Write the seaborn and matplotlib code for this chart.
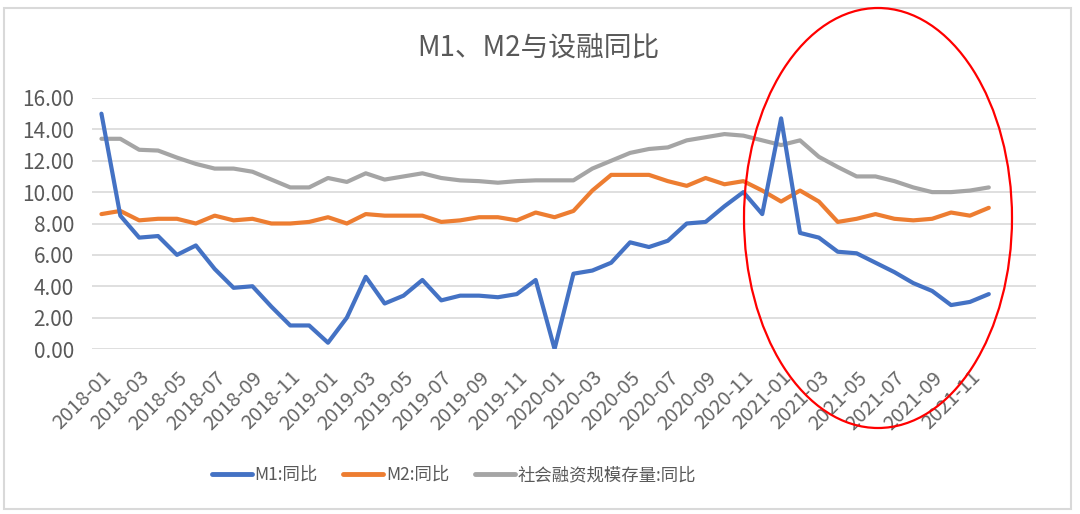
import numpy as np
import pandas as pd
import matplotlib
matplotlib.use("Agg")
import matplotlib.pyplot as plt
from matplotlib.patches import Ellipse, Rectangle
import seaborn as sns

months = [f"{y}-{m:02d}" for y in range(2018, 2022) for m in range(1, 13)]

m1 = [15.0, 8.5, 7.1, 7.2, 6.0, 6.6, 5.1, 3.9, 4.0, 2.7, 1.5, 1.5,
      0.4, 2.0, 4.6, 2.9, 3.4, 4.4, 3.1, 3.4, 3.4, 3.3, 3.5, 4.4,
      0.0, 4.8, 5.0, 5.5, 6.8, 6.5, 6.9, 8.0, 8.1, 9.1, 10.0, 8.6,
      14.7, 7.4, 7.1, 6.2, 6.1, 5.5, 4.9, 4.2, 3.7, 2.8, 3.0, 3.5]
m2 = [8.6, 8.8, 8.2, 8.3, 8.3, 8.0, 8.5, 8.2, 8.3, 8.0, 8.0, 8.1,
      8.4, 8.0, 8.6, 8.5, 8.5, 8.5, 8.1, 8.2, 8.4, 8.4, 8.2, 8.7,
      8.4, 8.8, 10.1, 11.1, 11.1, 11.1, 10.7, 10.4, 10.9, 10.5, 10.7, 10.1,
      9.4, 10.1, 9.4, 8.1, 8.3, 8.6, 8.3, 8.2, 8.3, 8.7, 8.5, 9.0]
tsf = [13.4, 13.4, 12.7, 12.65, 12.2, 11.8, 11.5, 11.5, 11.3, 10.8, 10.3, 10.3,
       10.9, 10.65, 11.2, 10.8, 11.0, 11.2, 10.9, 10.75, 10.7, 10.6, 10.7, 10.75,
       10.75, 10.75, 11.5, 12.0, 12.5, 12.75, 12.85, 13.3, 13.5, 13.7, 13.6, 13.3,
       13.0, 13.3, 12.25, 11.6, 11.0, 11.0, 10.7, 10.3, 10.0, 10.0, 10.1, 10.3]

series_names = ["M1:同比", "M2:同比", "社会融资规模存量:同比"]
colors = ["#4472C4", "#ED7D31", "#A5A5A5"]
title = "M1、M2与设融同比"
yticks = [0, 2, 4, 6, 8, 10, 12, 14, 16]

sns.set_theme(style="white")
plt.rcParams['font.family'] = ['Noto Sans CJK SC', 'DejaVu Sans']
text_color = "#595959"

df = pd.DataFrame({
    "idx": list(range(len(months))) * 3,
    "value": m1 + m2 + tsf,
    "series": [series_names[0]] * len(m1) + [series_names[1]] * len(m2) + [series_names[2]] * len(tsf),
})

fig = plt.figure(figsize=(10.8, 5.14), dpi=100)
ax = fig.add_axes([92 / 1080, 1 - 349 / 514, (1036 - 92) / 1080, (349 - 98) / 514])

sns.lineplot(data=df, x="idx", y="value", hue="series", hue_order=series_names,
             palette=colors, linewidth=3, ax=ax, legend=True)
for line, z in zip(ax.lines, [4, 3, 2]):
    line.set_zorder(z)
    line.set_solid_capstyle("round")
    line.set_solid_joinstyle("round")

ax.set_xlim(-0.5, 49.5)
ax.set_ylim(0, 16)
ax.set_yticks(yticks)
ax.set_yticklabels([f"{v:.2f}" for v in yticks], fontsize=15, color=text_color)
ax.yaxis.grid(True, color="#D9D9D9", linewidth=1.2)
ax.set_axisbelow(True)
tick_pos = list(range(0, len(months), 2))
ax.set_xticks(tick_pos)
ax.set_xticklabels([months[i] for i in tick_pos], rotation=45, ha="right",
                   rotation_mode="anchor", fontsize=14.5, color="#666666")
ax.tick_params(axis="x", length=0, pad=13)
ax.tick_params(axis="y", length=0, pad=13)
ax.set_xlabel("")
ax.set_ylabel("")
for s in ax.spines.values():
    s.set_visible(False)

handles, labels = ax.get_legend_handles_labels()
ax.legend_.remove()
leg = fig.legend(handles, labels, loc="center", bbox_to_anchor=(454 / 1080, 1 - 475 / 514),
                 ncol=3, frameon=False, fontsize=12.5, handlelength=2.3,
                 handletextpad=0.15, columnspacing=1.5)
for t in leg.get_texts():
    t.set_color(text_color)
for h in leg.get_lines():
    h.set_linewidth(3.5)

fig.text(538 / 1080, 1 - 48 / 514, title, ha="center", va="center",
         fontsize=20, color=text_color)

fig.patches.append(Rectangle((4 / 1080, 1 - 509 / 514), (1071 - 4) / 1080, (509 - 8) / 514,
                             transform=fig.transFigure, fill=False,
                             edgecolor="#D9D9D9", linewidth=1.5, zorder=0))
fig.patches.append(Ellipse((878 / 1080, 1 - 218 / 514), 268 / 1080, 420 / 514,
                           transform=fig.transFigure, fill=False,
                           edgecolor="#FF0000", linewidth=1.6, zorder=10))

fig.savefig("out.png", dpi=100, facecolor="white")
